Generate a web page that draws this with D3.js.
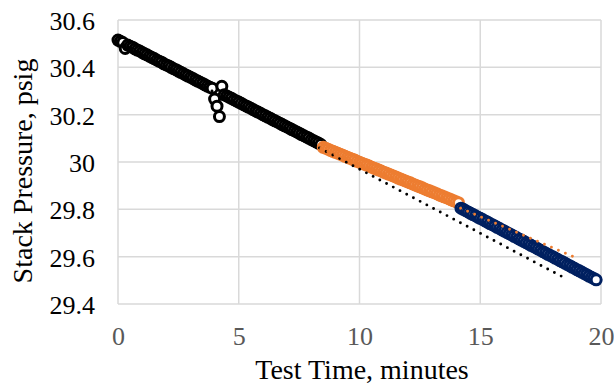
<!DOCTYPE html>
<html>
<head>
<meta charset="utf-8">
<script src="https://cdn.jsdelivr.net/npm/d3@7"></script>
<style>
  body { margin: 0; background: #fff; }
  svg text { font-family: "Liberation Serif", "Times New Roman", serif; }
</style>
</head>
<body>
<div id="chart"></div>
<script>
// logger samples every 0.1 min, each run starts where the previous one ended
var dt = 0.1;
var runStarts = [0, 8.5, 14.2];

// stack pressure (psig) per run
var run1 = [30.515,30.510,30.505,30.480,30.494,30.489,30.485,30.478,30.473,30.469,
            30.463,30.457,30.453,30.447,30.442,30.437,30.431,30.426,30.422,30.415,
            30.410,30.406,30.400,30.394,30.390,30.384,30.379,30.374,30.368,30.363,
            30.358,30.353,30.347,30.342,30.337,30.332,30.326,30.321,30.316,30.312,
            30.266,30.236,30.192,30.320,30.284,30.279,30.274,30.269,30.263,30.258,
            30.253,30.248,30.242,30.237,30.232,30.227,30.221,30.216,30.211,30.206,
            30.200,30.195,30.190,30.185,30.179,30.174,30.169,30.164,30.158,30.153,
            30.148,30.143,30.137,30.132,30.127,30.122,30.116,30.111,30.106,30.101,
            30.095,30.090,30.085,30.080,30.074];
var run2 = [30.062,30.058,30.054,30.049,30.045,30.041,30.037,30.033,30.029,30.024,
            30.020,30.016,30.012,30.008,30.003,29.999,29.995,29.991,29.987,29.983,
            29.978,29.974,29.970,29.966,29.962,29.957,29.953,29.949,29.945,29.941,
            29.937,29.932,29.928,29.924,29.920,29.916,29.912,29.907,29.903,29.899,
            29.895,29.891,29.886,29.882,29.878,29.874,29.870,29.866,29.861,29.857,
            29.853,29.849,29.845,29.840,29.836,29.832,29.828];
var run3 = [29.805,29.800,29.794,29.789,29.783,29.778,29.773,29.767,29.762,29.757,
            29.751,29.746,29.740,29.735,29.730,29.724,29.719,29.713,29.708,29.702,
            29.697,29.692,29.686,29.681,29.675,29.670,29.665,29.659,29.654,29.648,
            29.643,29.638,29.632,29.627,29.621,29.616,29.610,29.605,29.600,29.594,
            29.589,29.583,29.578,29.573,29.567,29.562,29.556,29.551,29.545,29.540,
            29.535,29.529,29.524,29.518,29.513,29.508,29.502];

// linear trendlines (with forecast) for run 1 and run 2: [time, psig]
var trend1 = [[0, 30.511], [18.4, 29.515]];
var trend2 = [[8.4, 30.057], [19.0, 29.594]];

var xTicks = [0, 5, 10, 15, 20];
var yTicks = [29.4, 29.6, 29.8, 30, 30.2, 30.4, 30.6];

var colors = ["#000000", "#ED7D31", "#002060"];

var W = 614, H = 385;
var pLeft = 118, pRight = 601, pTop = 20, pBottom = 304;
var serif = "'Liberation Serif', 'Times New Roman', serif";

var x = d3.scaleLinear().domain([0, 20]).range([pLeft, pRight]);
var y = d3.scaleLinear().domain([29.4, 30.6]).range([pBottom, pTop]);

var svg = d3.select("#chart").append("svg")
    .attr("width", W).attr("height", H)
    .style("font-family", serif);

svg.append("rect").attr("width", W).attr("height", H).attr("fill", "#fff");

// grid
svg.append("g").selectAll("line").data(yTicks).enter().append("line")
    .attr("x1", pLeft).attr("x2", pRight)
    .attr("y1", function(d){ return y(d); }).attr("y2", function(d){ return y(d); })
    .attr("stroke", "#d9d9d9").attr("stroke-width", 1.5);
svg.append("g").selectAll("line").data(xTicks).enter().append("line")
    .attr("y1", pTop).attr("y2", pBottom)
    .attr("x1", function(d){ return x(d); }).attr("x2", function(d){ return x(d); })
    .attr("stroke", "#d9d9d9").attr("stroke-width", 1.5);

// axes (labels only, lines are the grid)
var xAxis = svg.append("g").attr("transform", "translate(0," + pBottom + ")")
    .call(d3.axisBottom(x).tickValues(xTicks).tickSize(0).tickPadding(23).tickFormat(d3.format("d")));
xAxis.attr("font-family", null).attr("font-size", null)
    .style("font-family", serif).style("font-size", "26px");
xAxis.select(".domain").remove();
xAxis.selectAll("text").style("font-family", serif).attr("fill", "#595959");

var yAxis = svg.append("g").attr("transform", "translate(" + pLeft + ",0)")
    .call(d3.axisLeft(y).tickValues(yTicks).tickSize(0).tickPadding(23).tickFormat(function(d){ return +d.toFixed(1) + ""; }));
yAxis.attr("font-family", null).attr("font-size", null)
    .style("font-family", serif).style("font-size", "26px");
yAxis.select(".domain").remove();
yAxis.selectAll("text").style("font-family", serif).attr("dy", "0.36em").attr("fill", "#000");

// data points
var runs = [run1, run2, run3];
runs.forEach(function(vals, r){
    var pts = vals.map(function(v, i){ return [runStarts[r] + i*dt, v]; });
    svg.append("g").selectAll("circle").data(pts).enter().append("circle")
        .attr("cx", function(d){ return x(d[0]); })
        .attr("cy", function(d){ return y(d[1]); })
        .attr("r", 5)
        .attr("fill", "#fff")
        .attr("stroke", colors[r])
        .attr("stroke-width", 3);
});

// trendlines on top
var line = d3.line().x(function(d){ return x(d[0]); }).y(function(d){ return y(d[1]); });
[trend1, trend2].forEach(function(t, i){
    svg.append("path").datum(t)
        .attr("d", line)
        .attr("fill", "none")
        .attr("stroke", colors[i])
        .attr("stroke-width", 2.9)
        .attr("stroke-linecap", "round")
        .attr("stroke-dasharray", "0 7.6");
});

// titles
svg.append("text")
    .attr("x", 362).attr("y", 379)
    .attr("text-anchor", "middle")
    .style("font-size", "28px")
    .text("Test Time, minutes");

svg.append("text")
    .attr("transform", "translate(32,171) rotate(-90)")
    .attr("text-anchor", "middle")
    .style("font-size", "28px")
    .text("Stack Pressure, psig");
</script>
</body>
</html>
